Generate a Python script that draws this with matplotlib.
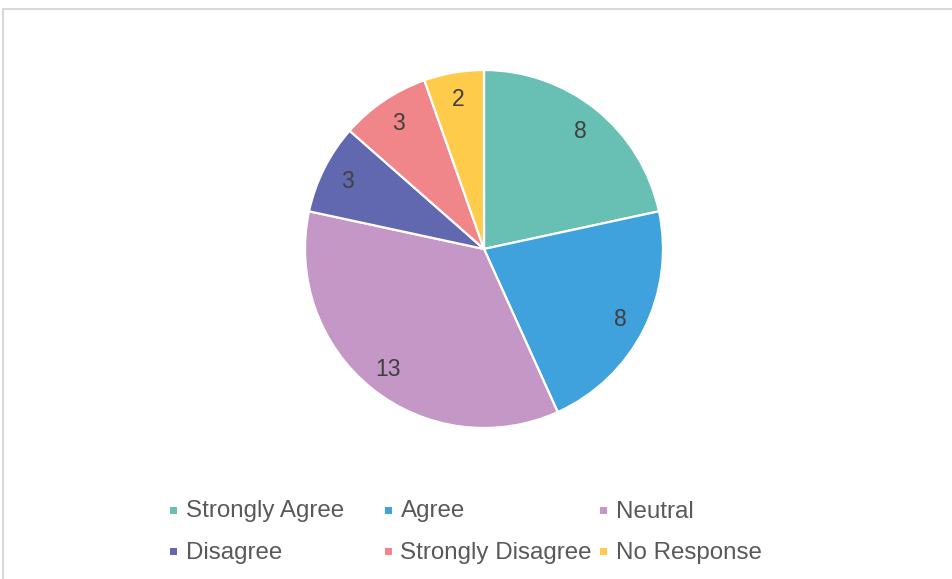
import matplotlib
matplotlib.use("Agg")
import matplotlib.pyplot as plt
from matplotlib.patches import Rectangle

# ─── Data ─────────────────────────────────────────────────────────────────────

CATEGORIES = ["Strongly Agree", "Agree", "Neutral",
              "Disagree", "Strongly Disagree", "No Response"]
COUNTS = [8, 8, 13, 3, 3, 2]
COLORS = ["#68C0B5", "#3FA2DC", "#C597C6", "#6268AF", "#F08689", "#FECB4A"]

W, H = 953, 579
DPI = 100

plt.rcParams["font.family"] = ["Liberation Sans", "DejaVu Sans"]

fig = plt.figure(figsize=(W / DPI, H / DPI), dpi=DPI)

# chart area border (light gray, runs off the right/bottom edge)
fig.add_artist(Rectangle((3.5 / W, -0.1), 1.2, 1.1 - 9.5 / H,
                         transform=fig.transFigure, fill=False,
                         edgecolor="#D9D9D9", linewidth=1.5))

# ─── Pie ──────────────────────────────────────────────────────────────────────

cx, cy, r = 484, 249, 179
ax = fig.add_axes([(cx - r) / W, (H - cy - r) / H, 2 * r / W, 2 * r / H])
wedges, texts = ax.pie(COUNTS, colors=COLORS, startangle=90, counterclock=False,
                       labels=[str(v) for v in COUNTS], labeldistance=0.855,
                       wedgeprops=dict(edgecolor="white", linewidth=1.6),
                       textprops=dict(fontsize=16.5, color="#404040"))
for t in texts:
    t.set_ha("center")
    t.set_va("center")
    x, y = t.get_position()
    t.set_position((x, y - 0.01))
ax.set_xlim(-1, 1)
ax.set_ylim(-1, 1)
ax.set_aspect("equal")
ax.axis("off")

# ─── Legend (equal-width columns, Excel style) ────────────────────────────────

col_x = [174, 388, 604]
row_y = [510, 551]
sq = 7
for i, (name, col) in enumerate(zip(CATEGORIES, COLORS)):
    x = col_x[i % 3]
    y = row_y[i // 3]
    fig.add_artist(Rectangle(((x - sq / 2) / W, (H - y - sq / 2) / H), sq / W, sq / H,
                             transform=fig.transFigure, facecolor=col, edgecolor="none"))
    fig.text((x + 12.5) / W, (H - y - 1.5) / H, name, fontsize=17.4, color="#595959",
             ha="left", va="center")

fig.savefig("out.png", dpi=DPI)
